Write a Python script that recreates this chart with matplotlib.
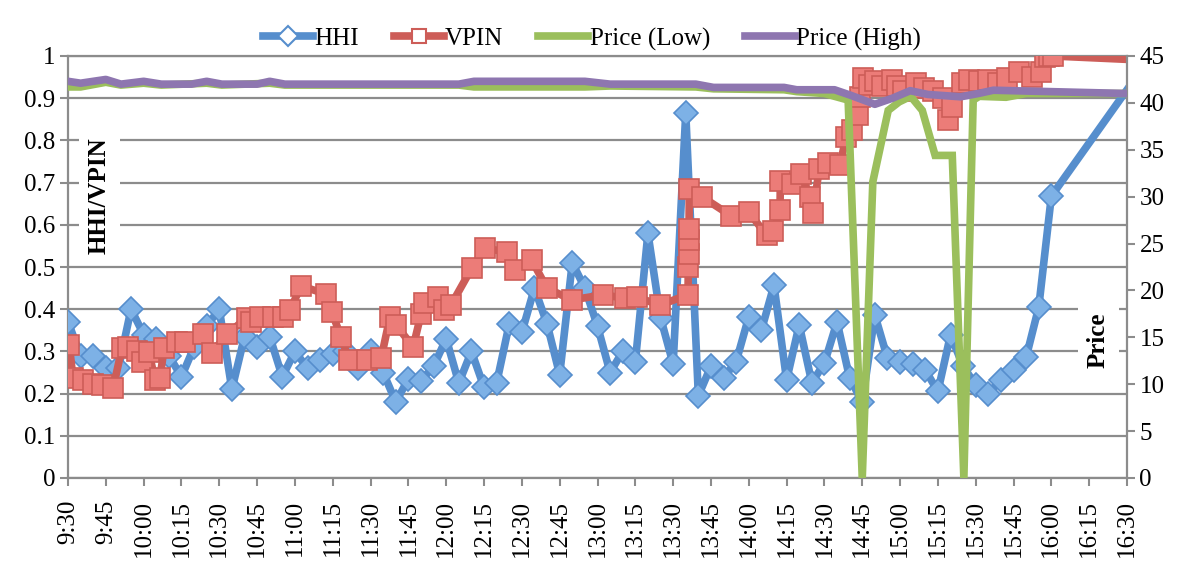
import matplotlib
matplotlib.use('Agg')
import matplotlib.pyplot as plt
from matplotlib.lines import Line2D

plt.rcParams['font.family'] = ['Liberation Serif', 'DejaVu Serif']

# ---------------- data ----------------
tick_labels = ["9:30", "9:45", "10:00", "10:15", "10:30", "10:45", "11:00", "11:15",
               "11:30", "11:45", "12:00", "12:15", "12:30", "12:45", "13:00", "13:15",
               "13:30", "13:45", "14:00", "14:15", "14:30", "14:45", "15:00", "15:15",
               "15:30", "15:45", "16:00", "16:15", "16:30"]

hhi_times = ["9:30", "9:35", "9:40", "9:45", "9:50", "9:55", "10:00", "10:05", "10:10",
             "10:15", "10:20", "10:25", "10:30", "10:35", "10:40", "10:45", "10:50",
             "10:55", "11:00", "11:05", "11:10", "11:15", "11:20", "11:25", "11:30",
             "11:35", "11:40", "11:45", "11:50", "11:55", "12:00", "12:05", "12:10",
             "12:15", "12:20", "12:25", "12:30", "12:35", "12:40", "12:45", "12:50",
             "12:55", "13:00", "13:05", "13:10", "13:15", "13:20", "13:25", "13:30",
             "13:35", "13:40", "13:45", "13:50", "13:55", "14:00", "14:05", "14:10",
             "14:15", "14:20", "14:25", "14:30", "14:35", "14:40", "14:45", "14:50",
             "14:55", "15:00", "15:05", "15:10", "15:15", "15:20", "15:25", "15:30",
             "15:35", "15:40", "15:45", "15:50", "15:55", "16:00", "16:30"]
hhi_values = [0.37, 0.29, 0.29, 0.26, 0.26, 0.40, 0.34, 0.33, 0.29,
              0.24, 0.31, 0.36, 0.40, 0.21, 0.335, 0.31, 0.335,
              0.24, 0.30, 0.26, 0.28, 0.295, 0.30, 0.26, 0.30,
              0.25, 0.18, 0.235, 0.23, 0.265, 0.33, 0.225, 0.30,
              0.215, 0.225, 0.365, 0.345, 0.45, 0.365, 0.245, 0.51,
              0.45, 0.36, 0.25, 0.30, 0.275, 0.58, 0.38, 0.27,
              0.865, 0.195, 0.265, 0.237, 0.276, 0.382, 0.35, 0.457,
              0.232, 0.363, 0.226, 0.272, 0.37, 0.237, 0.18, 0.386,
              0.284, 0.276, 0.27, 0.256, 0.205, 0.339, 0.265, 0.22,
              0.20, 0.232, 0.256, 0.286, 0.405, 0.668, 0.92]

# VPIN buckets: minutes after 9:30
vpin_minutes = [0.5, 2.0, 6.0, 9.9, 13.5, 17.9, 21.4, 23.8, 27.4, 29.4, 32.1, 34.5,
                36.5, 38.1, 43.2, 46.4, 53.6, 57.1, 63.1, 71.0, 72.6, 76.2, 81.3,
                85.3, 88.1, 92.4, 102.3, 104.7, 108.3, 111.5, 118.6, 124.2, 127.7,
                130.1, 136.9, 140.0, 141.2, 146.8, 149.2, 151.9, 160.1, 165.4, 174.0,
                177.3, 183.9, 189.9, 199.8, 212.3, 220.9, 225.7, 234.8, 245.9, 246.0,
                246.1, 246.2, 246.3, 246.4, 251.3, 262.8, 269.9, 277.1, 279.8, 282.4,
                282.5, 287.2, 290.8, 294.3, 295.5, 297.9, 301.5, 306.2, 308.6, 311.0,
                313.2, 314.0, 315.4, 317.7, 320.0, 322.9, 326.7, 328.8, 331.2, 336.4,
                339.5, 343.1, 347.0, 349.2, 350.6, 354.5, 357.4, 361.3, 364.9, 368.8,
                372.5, 377.1, 382.3, 386.0, 387.5, 389.1, 390.6, 420.0]
vpin_values = [0.315, 0.236, 0.232, 0.222, 0.220, 0.213, 0.308, 0.311, 0.300, 0.274,
               0.298, 0.232, 0.237, 0.308, 0.323, 0.323, 0.341, 0.296, 0.341, 0.380,
               0.370, 0.382, 0.382, 0.382, 0.398, 0.455, 0.436, 0.393, 0.333, 0.280,
               0.280, 0.284, 0.382, 0.362, 0.311, 0.388, 0.415, 0.428, 0.398, 0.410,
               0.497, 0.544, 0.536, 0.493, 0.517, 0.450, 0.422, 0.434, 0.426, 0.428,
               0.410, 0.434, 0.500, 0.530, 0.565, 0.590, 0.686, 0.667, 0.622, 0.631,
               0.575, 0.586, 0.635, 0.704, 0.696, 0.720, 0.667, 0.627, 0.732, 0.746,
               0.742, 0.809, 0.825, 0.860, 0.904, 0.947, 0.931, 0.940, 0.928, 0.943,
               0.928, 0.916, 0.935, 0.923, 0.916, 0.900, 0.848, 0.880, 0.935, 0.943,
               0.940, 0.943, 0.935, 0.947, 0.963, 0.951, 0.963, 0.998, 1.000, 1.000,
               0.992]

price_high_minutes = [0, 5, 15, 21, 30, 37, 49, 55, 61, 75, 80, 86, 155, 161, 205, 215,
                      249, 256, 284, 289, 304, 310, 320, 327, 334, 341, 354, 361, 367, 420]
price_high = [42.3, 42.1, 42.5, 42.0, 42.3, 42.0, 42.0, 42.3, 42.0, 42.0, 42.3, 42.0,
              42.0, 42.3, 42.3, 42.0, 42.0, 41.65, 41.65, 41.4, 41.4, 40.85, 39.85,
              40.5, 41.3, 40.9, 40.65, 41.0, 41.35, 41.0]

price_low_minutes = [0, 5, 15, 21, 30, 37, 55, 61, 80, 86, 155, 161, 205, 215, 249, 256,
                     284, 289, 300, 309.4, 315, 319.2, 325.3, 329.6, 334.2, 338.8, 343.9,
                     350.7, 355.3, 359, 361.4, 372, 380, 420]
price_low = [41.7, 41.7, 42.2, 41.9, 42.1, 41.9, 42.1, 41.9, 42.1, 41.9, 41.9, 41.7,
             41.7, 41.8, 41.7, 41.5, 41.4, 41.2, 41.0, 40.3, 0.0, 31.6, 39.2, 40.1,
             40.7, 39.2, 34.4, 34.4, 0.0, 40.3, 40.7, 40.6, 41.0, 41.0]

# ---------------- styling ----------------
BLUE = '#568ECD'
BLUE_FILL = '#7DB1E6'
RED = '#CD5D58'
RED_FILL = '#EC7C78'
GREEN = '#9BBF5C'
PURPLE = '#8E76B0'
GRID = '#8C8C8C'
FS = 18
LW = 5.5


def to_min(s):
    h, m = s.split(':')
    return (int(h) - 9) * 60 + int(m) - 30


hhi_x = [to_min(t) for t in hhi_times]
tick_x = [to_min(t) for t in tick_labels]

W, H = 1194, 579
fig = plt.figure(figsize=(W / 100, H / 100), dpi=100)
L, R, T, B = 68, 1127, 56, 478
ax = fig.add_axes([L / W, 1 - B / H, (R - L) / W, (B - T) / H])
ax2 = ax.twinx()

# primary axis
ax.plot(hhi_x, hhi_values, color=BLUE, lw=LW, marker='D', ms=12.5,
        mfc=BLUE_FILL, mec=BLUE, mew=1.2, markevery=list(range(len(hhi_x) - 1)),
        zorder=3, solid_joinstyle='round')
ax.plot(vpin_minutes, vpin_values, color=RED, lw=LW, marker='s', ms=14,
        mfc=RED_FILL, mec=RED, mew=1.2, markevery=list(range(len(vpin_minutes) - 1)),
        zorder=4, solid_joinstyle='round')

ax.set_xlim(0, 420)
ax.set_ylim(0, 1)
ax.set_yticks([i / 10 for i in range(11)])
ax.set_yticklabels(['0', '0.1', '0.2', '0.3', '0.4', '0.5', '0.6', '0.7', '0.8', '0.9', '1'])
ax.set_xticks(tick_x)
ax.set_xticklabels(tick_labels, rotation=90)
ax.grid(axis='y', color=GRID, lw=1.6)
ax.set_axisbelow(True)
ax.tick_params(axis='y', direction='out', length=6, width=1.5, color=GRID,
               labelsize=FS, pad=3)
ax.tick_params(axis='x', direction='out', length=6, width=1.5, color=GRID,
               labelsize=FS, pad=9.5)
for side in ['left', 'bottom', 'top']:
    ax.spines[side].set_color(GRID)
    ax.spines[side].set_linewidth(1.6)
ax.spines['right'].set_visible(False)

# secondary axis
ax2.plot(price_low_minutes, price_low, color=GREEN, lw=LW, zorder=3,
         solid_joinstyle='miter')
ax2.plot(price_high_minutes, price_high, color=PURPLE, lw=LW, zorder=4,
         solid_joinstyle='round')
ax2.set_ylim(0, 45)
ax2.set_yticks(list(range(0, 50, 5)))
ax2.tick_params(axis='y', direction='out', length=6, width=1.5, color=GRID,
                labelsize=FS, pad=3)
ax2.spines['right'].set_color(GRID)
ax2.spines['right'].set_linewidth(1.6)
for side in ['left', 'bottom', 'top']:
    ax2.spines[side].set_visible(False)

# axis titles inside the plot area
box = dict(boxstyle='square,pad=0.35', fc='white', ec='none')
ax2.text(0.0297, 0.668, 'HHI/VPIN', transform=ax.transAxes, rotation=90,
         ha='center', va='center', fontsize=FS, fontweight='bold', bbox=box, zorder=10)
ax2.text(0.973, 0.327, 'Price', transform=ax.transAxes, rotation=90,
         ha='center', va='center', fontsize=FS, fontweight='bold', bbox=box, zorder=10)

# legend
handles = [
    Line2D([], [], color=BLUE, lw=LW, marker='D', ms=10, mfc='white', mec=BLUE, mew=1.5),
    Line2D([], [], color=RED, lw=LW, marker='s', ms=10, mfc='white', mec=RED, mew=1.5),
    Line2D([], [], color=GREEN, lw=LW),
    Line2D([], [], color=PURPLE, lw=LW),
]
fig.legend(handles, ['HHI', 'VPIN', 'Price (Low)', 'Price (High)'],
           loc='center', bbox_to_anchor=(592 / W, 1 - 39 / H), ncol=4, frameon=False,
           fontsize=FS, handlelength=2.0, handletextpad=0.05, columnspacing=1.4,
           borderaxespad=0)

fig.savefig('out.png', dpi=100)
